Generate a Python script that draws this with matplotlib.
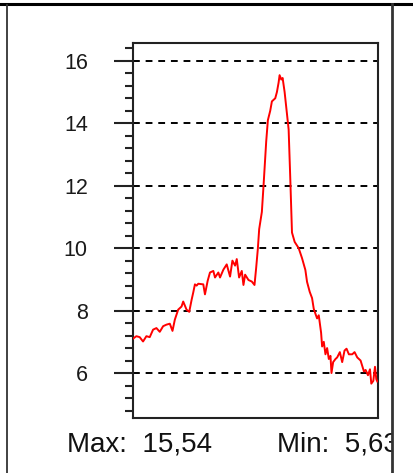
import matplotlib.pyplot as plt
from matplotlib.patches import Rectangle
from matplotlib.lines import Line2D

plt.rcParams['font.family'] = ['Liberation Sans', 'DejaVu Sans']

# sample positions along the trace and the values
pos = [10, 20, 30, 40, 50, 60, 70, 80, 90, 100, 110, 120, 128, 135, 145, 155,
       160, 170, 178, 185, 190, 195, 200, 205, 220, 225, 233, 240, 250, 255,
       265, 270, 280, 290, 300, 307, 315, 320, 327, 335, 340, 345, 355, 365,
       373, 378, 383, 387, 395, 400, 408, 413, 420, 425, 435, 440, 445, 448,
       453, 457, 463, 470, 475, 480, 485, 493, 505, 515, 525, 530, 538, 545,
       550, 555, 560, 565, 572, 575, 580, 585, 590, 595, 600, 603, 608, 615,
       620, 628, 635, 642, 648, 655, 665, 672, 680, 690, 700, 705, 712, 718,
       722, 728, 733, 737, 740]
vals = [7.10, 7.18, 7.15, 7.01, 7.18, 7.15, 7.39, 7.44, 7.32, 7.50, 7.55, 7.58,
        7.35, 7.71, 8.03, 8.13, 8.29, 8.03, 7.96, 8.34, 8.58, 8.84, 8.80, 8.86,
        8.84, 8.52, 8.95, 9.22, 9.27, 9.06, 9.22, 9.06, 9.31, 9.48, 9.09, 9.60,
        9.44, 9.65, 9.06, 9.27, 8.82, 9.15, 8.98, 8.93, 8.82, 9.37, 9.98, 10.61,
        11.16, 12.00, 13.42, 14.10, 14.40, 14.70, 14.80, 15.00, 15.30, 15.54,
        15.40, 15.45, 15.00, 14.30, 13.80, 12.20, 10.50, 10.20, 10.00, 9.68,
        9.30, 8.92, 8.60, 8.40, 8.06, 7.90, 7.75, 7.85, 7.29, 6.85, 7.00, 6.60,
        6.80, 6.45, 6.55, 6.00, 6.35, 6.45, 6.50, 6.67, 6.35, 6.72, 6.78, 6.60,
        6.60, 6.67, 6.50, 6.40, 6.05, 6.10, 5.93, 6.12, 5.66, 5.75, 6.20, 5.80,
        5.73]

major_ticks = [6, 8, 10, 12, 14, 16]
minor_ticks = [4.8, 5.2, 5.6, 6.4, 6.8, 7.2, 7.6, 8.4, 8.8, 9.2, 9.6, 10.4,
               10.8, 11.2, 11.6, 12.4, 12.8, 13.2, 13.6, 14.4, 14.8, 15.2,
               15.6, 16.4]

fig = plt.figure(figsize=(4.14, 4.73), dpi=100)
ax = fig.add_axes([133 / 414, 55 / 473, 245 / 414, 375 / 473])

ax.plot(pos, vals, color='red', linewidth=1.4, zorder=3)

ax.set_xlim(10, 742)
ax.set_ylim(4.56, 16.57)
ax.set_xticks([])
ax.set_yticks(major_ticks)
ax.set_yticks(minor_ticks, minor=True)
ax.set_yticklabels([str(t) for t in major_ticks])
ax.tick_params(axis='y', which='major', direction='out', length=13.5,
               width=1.5, pad=19, labelsize=15.5, color='#222222',
               labelcolor='#1a1a1a')
ax.tick_params(axis='y', which='minor', direction='out', length=6,
               width=1.5, color='#222222')

ax.yaxis.grid(True, which='major', color='black', linewidth=1.4,
              linestyle=(0, (3.5, 3)))
ax.set_axisbelow(True)
for sp in ax.spines.values():
    sp.set_linewidth(1.5)
    sp.set_color('#222222')

fig.text(67 / 414, 1 - 444 / 473, 'Max:  15,54', fontsize=20,
         va='center', ha='left', color='#111111')
fig.text(277 / 414, 1 - 444 / 473, 'Min:  5,63', fontsize=20,
         va='center', ha='left', color='#111111')

# hide the part of the text past the cell border
fig.patches.append(Rectangle((392 / 414, 0), 22 / 414, 1, transform=fig.transFigure,
                             facecolor='white', edgecolor='none', zorder=10))

# cell frame
fig.lines.append(Line2D([0, 1], [1 - 4 / 473, 1 - 4 / 473], transform=fig.transFigure,
                        color='black', linewidth=2.2, zorder=11))
fig.lines.append(Line2D([7.5 / 414, 7.5 / 414], [0, 1 - 5 / 473], transform=fig.transFigure,
                        color='#333333', linewidth=1.3, zorder=11))
fig.lines.append(Line2D([392 / 414, 392 / 414], [0, 1 - 4 / 473], transform=fig.transFigure,
                        color='#333333', linewidth=2.0, zorder=11))

fig.savefig('out.png', dpi=100)
